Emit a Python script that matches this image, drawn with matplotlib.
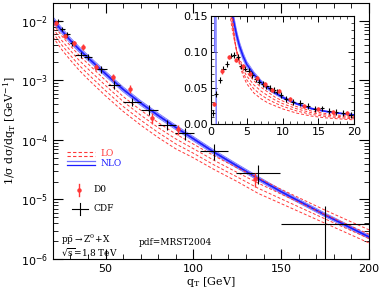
import numpy as np
import matplotlib
matplotlib.use("Agg")
import matplotlib.pyplot as plt
from matplotlib.ticker import MultipleLocator, LogLocator, NullFormatter

plt.rcParams['mathtext.fontset'] = 'dejavuserif'

# ---- main panel: theory curves (log10 of 1/sigma dsigma/dqT) ----
qt = [20, 25, 30, 35, 40, 50, 60, 70, 80, 90, 100, 112, 125, 137, 150, 175, 200]
nlo_log = [-1.98, -2.16, -2.33, -2.48, -2.62, -2.89, -3.15, -3.38, -3.59, -3.79,
           -3.98, -4.21, -4.44, -4.65, -4.87, -5.26, -5.63]
nlo_spread = [0.05, 0.048, 0.046, 0.045, 0.044, 0.042, 0.041, 0.04, 0.039, 0.038,
              0.037, 0.036, 0.035, 0.034, 0.033, 0.031, 0.03]
lo_top_log = [-2.05, -2.25, -2.42, -2.58, -2.72, -3.0, -3.27, -3.5, -3.71, -3.9,
              -4.07, -4.27, -4.47, -4.64, -4.83, -5.18, -5.51]
lo_bot_log = [-2.27, -2.48, -2.66, -2.83, -2.98, -3.26, -3.52, -3.75, -3.96, -4.15,
              -4.3, -4.5, -4.7, -4.9, -5.07, -5.4, -5.73]

# ---- main panel: data ----
d0_q = [22, 27, 32, 37, 44.5, 54, 64, 76.5, 91.5, 135]
d0_v = [9.1e-3, 5.6e-3, 4.2e-3, 3.7e-3, 1.7e-3, 1.12e-3, 7.2e-4, 2.35e-4, 1.5e-4, 2.2e-5]
d0_e = [0.8e-3, 0.5e-3, 0.45e-3, 0.45e-3, 0.22e-3, 0.15e-3, 1.1e-4, 0.5e-4, 0.3e-4, 0.6e-5]

cdf_q = [23, 25.5, 28, 31, 36, 40, 47.5, 55, 65, 75, 85, 95, 112, 137, 175]
cdf_v = [1.0e-2, 7.4e-3, 5.9e-3, 4.2e-3, 2.7e-3, 2.5e-3, 1.55e-3, 8.5e-4, 4.4e-4,
         3.2e-4, 1.8e-4, 1.3e-4, 6.6e-5, 2.8e-5, 3.9e-6]
cdf_xe = [2.3, 1.5, 1.5, 1.5, 3.5, 2.5, 3.5, 3.5, 5, 5, 5, 5.5, 8, 12.5, 25]
cdf_ye = [0.8e-3, 0.6e-3, 0.5e-3, 0.4e-3, 0.3e-3, 0.3e-3, 0.2e-3, 1.2e-4, 0.7e-4,
          0.6e-4, 0.35e-4, 0.3e-4, 2.0e-5, 1.0e-5, 3.8e-6]

# ---- inset: theory ----
qi = [2.6, 2.8, 3.0, 3.3, 3.6, 4.0, 4.5, 5, 6, 7, 8, 9, 10, 12, 14, 16, 18, 20]
nlo_in = [0.19, 0.17, 0.152, 0.137, 0.123, 0.108, 0.094, 0.083, 0.069, 0.058, 0.050,
          0.043, 0.037, 0.028, 0.0215, 0.0175, 0.0148, 0.0127]
nlo_in_spread = [0.06, 0.06, 0.06, 0.06, 0.055, 0.055, 0.055, 0.05, 0.05, 0.05,
                 0.05, 0.05, 0.045, 0.045, 0.045, 0.04, 0.04, 0.04]
lo_in_top = [0.16, 0.142, 0.13, 0.115, 0.102, 0.09, 0.08, 0.072, 0.060, 0.051, 0.044,
             0.037, 0.032, 0.024, 0.018, 0.0145, 0.012, 0.010]
lo_in_bot = [0.19, 0.168, 0.15, 0.12, 0.10, 0.082, 0.067, 0.056, 0.043, 0.035, 0.029,
             0.025, 0.021, 0.015, 0.011, 0.0085, 0.007, 0.0057]
nlo_small_a_q = [0.50, 0.53]
nlo_small_a_v = [0.10, 0.16]
nlo_small_b_q = [0.70, 0.72, 0.75]
nlo_small_b_v = [0.16, 0.07, -0.01]

# ---- inset: data ----
d0i_q = [0.5, 1.5, 2.5, 3.5, 4.5, 5.5, 6.5, 7.5, 8.5, 9.5, 11, 13, 15, 17, 19]
d0i_v = [0.028, 0.073, 0.0935, 0.089, 0.080, 0.070, 0.064, 0.055, 0.047, 0.046,
         0.034, 0.025, 0.021, 0.017, 0.015]
cdfi_q = [0.25, 0.75, 1.25, 1.75, 2.25, 2.75, 3.25, 3.75, 4.25, 4.75, 5.25, 5.75,
          6.25, 6.75, 7.25, 7.75, 8.25, 8.75, 9.25, 9.75, 10.5, 11.5, 12.5, 13.5,
          14.5, 15.5, 16.5, 17.5, 18.5, 19.5]
cdfi_v = [0.015, 0.042, 0.061, 0.077, 0.083, 0.095, 0.096, 0.093, 0.080, 0.077,
          0.074, 0.068, 0.062, 0.059, 0.056, 0.053, 0.050, 0.047, 0.045, 0.040,
          0.035, 0.031, 0.029, 0.025, 0.021, 0.0215, 0.018, 0.017, 0.015, 0.0126]

RED = '#ff3838'
BLUE = '#1a1aff'
LBLUE = '#7070ff'

fig = plt.figure(figsize=(3.8, 2.91), dpi=100)
ax = fig.add_axes([0.139, 0.110, 0.832, 0.880])

q = np.array(qt)
c = np.array(nlo_log)
s = np.array(nlo_spread)
for k in (-1, -0.5, 0.5, 1):
    ax.plot(q, 10 ** (c + k * s), color=LBLUE, lw=0.6)
ax.plot(q, 10 ** c, color=BLUE, lw=1.2)
top = np.array(lo_top_log)
bot = np.array(lo_bot_log)
for f in (0, 1 / 3, 2 / 3, 1):
    ax.plot(q, 10 ** (top + f * (bot - top)), color=RED, lw=0.7, ls=(0, (3, 2)))

ax.errorbar(cdf_q, cdf_v, xerr=cdf_xe, yerr=cdf_ye, fmt='none', ecolor='black',
            elinewidth=0.8, capsize=0)
ax.errorbar(d0_q, d0_v, yerr=d0_e, fmt='o', color=RED, ms=2.2, elinewidth=1.0,
            capsize=0)

ax.set_yscale('log')
ax.set_xlim(20, 200)
ax.set_ylim(1e-6, 2e-2)
ax.xaxis.set_major_locator(MultipleLocator(50))
ax.xaxis.set_minor_locator(MultipleLocator(10))
ax.yaxis.set_major_locator(LogLocator(base=10, numticks=10))
ax.yaxis.set_minor_locator(LogLocator(base=10, subs=np.arange(2, 10), numticks=20))
ax.yaxis.set_minor_formatter(NullFormatter())
ax.tick_params(which='both', direction='in', top=True, right=True, labelsize=8)
ax.tick_params(which='major', length=7, width=0.8)
ax.tick_params(which='minor', length=3.5, width=0.6)
ax.set_xlabel(r'$\mathrm{q_T\ [GeV]}$', fontsize=8, labelpad=1)
ax.set_ylabel(r'$\mathrm{1/\sigma\ d\sigma/dq_T\ [GeV^{-1}]}$', fontsize=8, labelpad=2)

# legend drawn by hand
def px(x, y):
    return (x - 53) / 316, (259 - y) / 256

tf = ax.transAxes
for yy in (152, 156):
    x0, y0 = px(67, yy)
    x1, _ = px(95, yy)
    ax.plot([x0, x1], [y0, y0], transform=tf, color=RED, lw=0.8, ls=(0, (3, 2)))
for yy in (161, 165):
    x0, y0 = px(67, yy)
    x1, _ = px(95, yy)
    ax.plot([x0, x1], [y0, y0], transform=tf, color=LBLUE if yy == 161 else BLUE, lw=0.9)
tfont = dict(family='DejaVu Serif', fontsize=6.5)
ax.text(*px(101, 154), 'LO', transform=tf, color=RED, va='center', **tfont)
ax.text(*px(101, 164), 'NLO', transform=tf, color=BLUE, va='center', **tfont)
xm, ym = px(79, 190)
ax.plot([xm], [ym], 'o', color=RED, ms=2.2, transform=tf)
ax.plot([xm, xm], [ym - 0.022, ym + 0.022], color=RED, lw=1.0, transform=tf)
ax.text(*px(94, 190), 'D0', transform=tf, va='center', **tfont)
xc, yc = px(80, 209)
ax.plot([xc - 0.026, xc + 0.026], [yc, yc], color='black', lw=0.8, transform=tf)
ax.plot([xc, xc], [yc - 0.025, yc + 0.025], color='black', lw=0.8, transform=tf)
ax.text(*px(94, 209), 'CDF', transform=tf, va='center', **tfont)
ax.text(*px(61, 240), r'$\mathrm{p\bar{p}\to Z^0\!+\!X}$', transform=tf, va='center',
        fontsize=6.5)
ax.text(*px(61, 252), r'$\mathrm{\sqrt{s}}$=1.8 TeV', transform=tf, va='center', **tfont)
ax.text(*px(139, 243), 'pdf=MRST2004', transform=tf, va='center', **tfont)

# ---- inset ----
ins = fig.add_axes([0.555, 0.574, 0.377, 0.371])
qa = np.array(qi)
ca = np.array(nlo_in)
sa = np.array(nlo_in_spread)
for k in (-1, -0.5, 0.5, 1):
    ins.plot(qa, ca * (1 + k * sa), color=LBLUE, lw=0.5)
ins.plot(qa, ca, color=BLUE, lw=1.1)
ins.plot(nlo_small_a_q, nlo_small_a_v, color=LBLUE, lw=0.8)
ins.plot(nlo_small_b_q, nlo_small_b_v, color=LBLUE, lw=1.0)
ta = np.array(lo_in_top)
ba = np.array(lo_in_bot)
for f in (0, 1 / 3, 2 / 3, 1):
    ins.plot(qa, ta + f * (ba - ta), color=RED, lw=0.7, ls=(0, (3, 2)))
ins.errorbar(cdfi_q, cdfi_v, xerr=0.3, yerr=0.004, fmt='none', ecolor='black',
             elinewidth=0.8, capsize=0)
ins.errorbar(d0i_q, d0i_v, yerr=0.003, fmt='o', color=RED, ms=2.0, elinewidth=1.0,
             capsize=0)
ins.set_xlim(0, 20)
ins.set_ylim(0, 0.15)
ins.xaxis.set_major_locator(MultipleLocator(5))
ins.xaxis.set_minor_locator(MultipleLocator(1))
ins.yaxis.set_major_locator(MultipleLocator(0.05))
ins.yaxis.set_minor_locator(MultipleLocator(0.01))
ins.yaxis.set_major_formatter(plt.FormatStrFormatter('%.2f'))
ins.tick_params(which='both', direction='in', top=True, right=True, labelsize=8, pad=2)
ins.tick_params(which='major', length=4, width=0.7)
ins.tick_params(which='minor', length=2, width=0.5)

fig.savefig('out.png', dpi=100)
